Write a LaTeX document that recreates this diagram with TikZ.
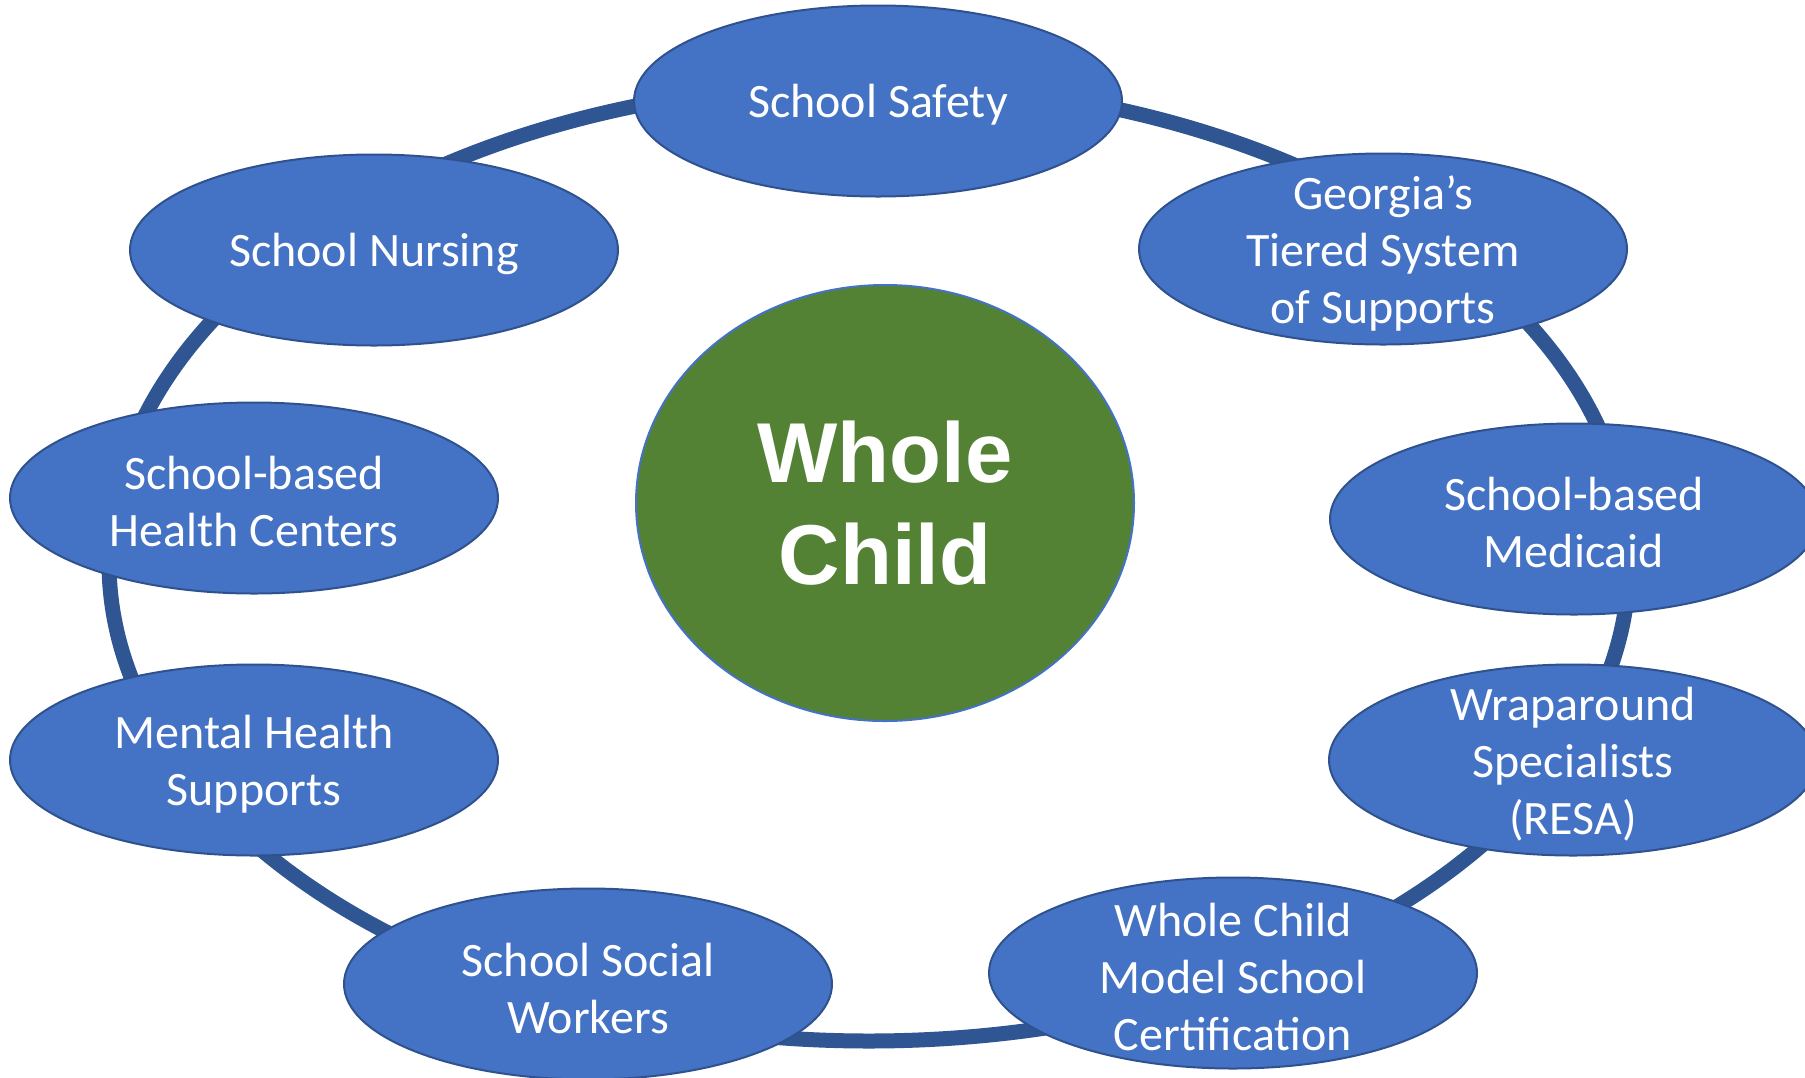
\documentclass[tikz,border=0pt]{standalone}
\usepackage{fontspec}
\setmainfont{Carlito}
\newfontfamily\wcfont{Liberation Sans}
\usetikzlibrary{shapes.geometric}
\definecolor{fillblue}{HTML}{4472C4}
\definecolor{edgeblue}{HTML}{2F528F}
\definecolor{ringblue}{HTML}{2F5592}
\definecolor{leaf}{HTML}{548235}
\begin{document}
\begin{tikzpicture}[x=0.5pt,y=-0.5pt,
  blob/.style={ellipse, draw=edgeblue, line width=1pt, fill=fillblue,
    minimum width=244pt, minimum height=95.5pt, inner sep=0pt},
  lbl/.style={text=white, align=center, inner sep=0pt, yshift=-2pt,
    font=\fontsize{24}{28.5}\selectfont},
  hub/.style={ellipse, draw=fillblue, line width=1pt, fill=leaf,
    minimum width=249pt, minimum height=218pt, inner sep=0pt,
    text=white, align=center, font=\wcfont\bfseries\fontsize{42.5}{51}\selectfont},
  ring/.style={draw=ringblue, line width=7.5pt}]
\useasboundingbox (0,0) rectangle (1805,1077);
\fill[white] (0,0) rectangle (1805,1077);
\coordinate (ringc) at (869,562);
\draw[ring] (ringc) ellipse [x radius=380pt, y radius=239.5pt];

\node[hub] (whole) at (885,503) {Whole\\Child};

\node[blob] (safety) at (878,101) {};
\node[lbl] (safety-t) at (safety) {School Safety};
\node[blob] (nursing) at (374,250) {};
\node[lbl] (nursing-t) at (nursing) {School Nursing};
\node[blob] (georgia) at (1383,249) {};
\node[lbl] (georgia-t) at (georgia) {Georgia’s\\Tiered System\\of Supports};
\node[blob] (sbhc) at (254,498) {};
\node[lbl] (sbhc-t) at (sbhc) {School-based\\Health Centers};
\node[blob] (medicaid) at (1574,519) {};
\node[lbl] (medicaid-t) at (medicaid) {School-based\\Medicaid};
\node[blob] (mental) at (254,760) {};
\node[lbl] (mental-t) at (mental) {Mental Health\\Supports};
\node[blob] (wrap) at (1573,760) {};
\node[lbl] (wrap-t) at (wrap) {Wraparound\\Specialists\\(RESA)};
\node[blob] (social) at (588,984) {};
\node[lbl] (social-t) at (social) {School Social\\Workers};
\node[blob] (model) at (1233,973) {};
\node[lbl] (model-t) at (model) {Whole Child\\Model School\\Certification};
\end{tikzpicture}
\end{document}
